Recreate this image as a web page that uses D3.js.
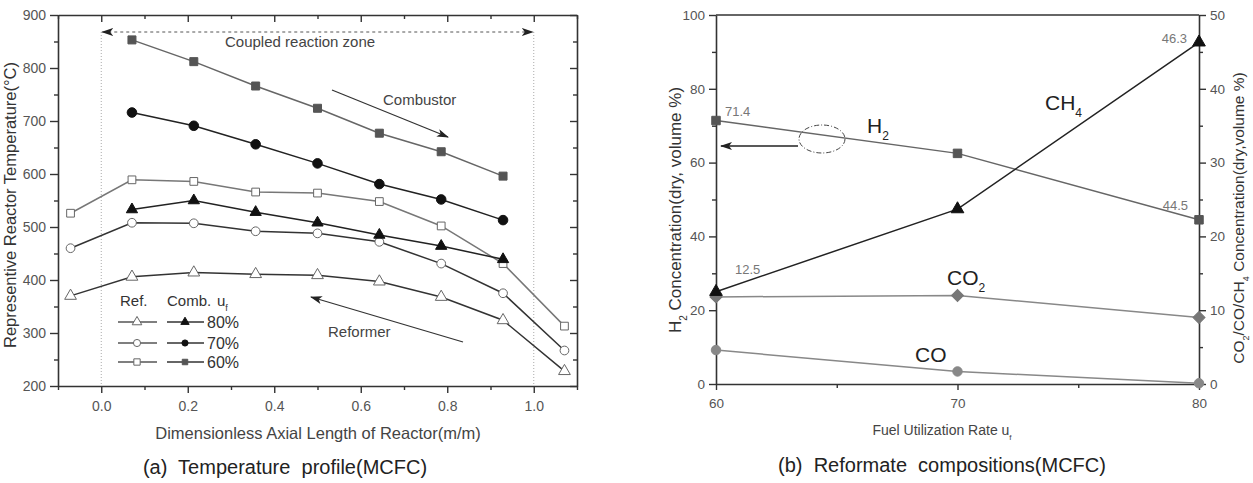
<!DOCTYPE html>
<html>
<head>
<meta charset="utf-8">
<script src="https://cdn.jsdelivr.net/npm/d3@7"></script>
<style>
  body { margin: 0; background: #fff; }
  svg { font-family: "Liberation Sans", Arial, sans-serif; }
  .domain { stroke: #333; stroke-width: 1.6; }
  .tick line { stroke: #333; stroke-width: 1.4; }
  .tick text { fill: #555; }
</style>
</head>
<body>
<script>
// ----- (a) temperature profile -----
const axialPos = [-0.071, 0.071, 0.214, 0.357, 0.5, 0.643, 0.786, 0.929, 1.071];
const combPos = [0.071, 0.214, 0.357, 0.5, 0.643, 0.786, 0.929];

const ref80 = [370, 406, 414, 411, 409, 397, 368, 324, 228];
const ref70 = [460, 508, 507, 492, 488, 472, 431, 375, 267];
const ref60 = [526, 589, 586, 566, 564, 548, 502, 431, 313];
const comb80 = [533, 550, 528, 508, 485, 464, 439];
const comb70 = [716, 691, 656, 620, 581, 552, 513];
const comb60 = [853, 812, 766, 724, 677, 642, 596];

const tempTicks = [200, 300, 400, 500, 600, 700, 800, 900];
const tempMinor = [250, 350, 450, 550, 650, 750, 850];
const axialTicks = [0.0, 0.2, 0.4, 0.6, 0.8, 1.0];
const axialMinor = [-0.1, 0.1, 0.3, 0.5, 0.7, 0.9, 1.1];
const legendRates = ['80%', '70%', '60%'];

// ----- (b) reformate compositions -----
const fuelRate = [60, 70, 80];
const h2 = [71.4, 62.5, 44.5];
const ch4 = [12.5, 23.7, 46.3];
const co2 = [11.8, 12.0, 9.0];
const co = [4.6, 1.7, 0.1];

const h2Ticks = [0, 20, 40, 60, 80, 100];
const h2Minor = [10, 30, 50, 70, 90];
const otherTicks = [0, 10, 20, 30, 40, 50];
const otherMinor = [5, 15, 25, 35, 45];
const rateTicks = [60, 70, 80];
const rateMinor = [65, 75];

const svg = d3.select('body').append('svg')
  .attr('width', 1253)
  .attr('height', 483);

const defs = svg.append('defs');
defs.append('marker')
  .attr('id', 'head')
  .attr('viewBox', '0 0 12 8')
  .attr('refX', 11).attr('refY', 4)
  .attr('markerWidth', 12).attr('markerHeight', 8)
  .attr('markerUnits', 'userSpaceOnUse')
  .attr('orient', 'auto-start-reverse')
  .append('path')
  .attr('d', 'M0,0 L12,4 L0,8 L3,4 Z')
  .attr('fill', '#222');

function drawSeries(g, xs, ys, x, y, style) {
  const pts = xs.map((v, i) => [x(v), y(ys[i])]);
  g.append('path')
    .attr('d', d3.line()(pts))
    .attr('fill', 'none')
    .attr('stroke', style.line)
    .attr('stroke-width', style.width || 1.5);
  g.selectAll(null)
    .data(pts)
    .enter()
    .append('path')
    .attr('transform', d => `translate(${d[0]},${d[1]})${style.rotate ? ' rotate(45)' : ''}`)
    .attr('d', d3.symbol().type(style.symbol).size(style.size))
    .attr('fill', style.fill)
    .attr('stroke', style.stroke)
    .attr('stroke-width', 1);
}

function addSub(text, base, sub, subSize) {
  text.append('tspan').text(base);
  text.append('tspan').attr('baseline-shift', 'sub').attr('font-size', subSize).text(sub);
}

// ================= chart (a) =================
const xA = d3.scaleLinear().domain([-0.1, 1.1]).range([58, 577]);
const yA = d3.scaleLinear().domain([200, 900]).range([386, 15]);
const gA = svg.append('g');

// dotted zone boundaries
[0, 1].forEach(v => {
  gA.append('line')
    .attr('x1', xA(v)).attr('x2', xA(v))
    .attr('y1', 32).attr('y2', 386)
    .attr('stroke', '#aaa').attr('stroke-width', 1)
    .attr('stroke-dasharray', '1,2');
});

gA.append('line')
  .attr('x1', xA(0) + 1).attr('x2', xA(1) - 1)
  .attr('y1', 32).attr('y2', 32)
  .attr('stroke', '#555').attr('stroke-width', 1)
  .attr('stroke-dasharray', '3,3')
  .attr('marker-start', 'url(#head)')
  .attr('marker-end', 'url(#head)');

gA.append('text')
  .attr('x', 225).attr('y', 47)
  .attr('font-size', 15).attr('fill', '#444')
  .text('Coupled reaction zone');

// axes
gA.append('g')
  .attr('transform', 'translate(58,0)')
  .call(d3.axisLeft(yA).tickValues(tempTicks).tickSize(8).tickPadding(4).tickSizeOuter(0))
  .call(g => g.selectAll('text').attr('font-size', 14));
gA.append('g')
  .attr('transform', 'translate(58,0)')
  .call(d3.axisLeft(yA).tickValues(tempMinor).tickSize(4).tickFormat('').tickSizeOuter(0))
  .call(g => g.select('.domain').remove());
gA.append('g')
  .attr('transform', 'translate(577,0)')
  .call(d3.axisRight(yA).tickValues(tempTicks).tickSize(-7).tickFormat('').tickSizeOuter(0));
gA.append('g')
  .attr('transform', 'translate(577,0)')
  .call(d3.axisRight(yA).tickValues(tempMinor).tickSize(-4).tickFormat('').tickSizeOuter(0))
  .call(g => g.select('.domain').remove());
gA.append('g')
  .attr('transform', 'translate(0,386)')
  .call(d3.axisBottom(xA).tickValues(axialTicks).tickSize(7).tickPadding(8)
    .tickFormat(d3.format('.1f')).tickSizeOuter(0))
  .call(g => g.selectAll('text').attr('font-size', 14));
gA.append('g')
  .attr('transform', 'translate(0,386)')
  .call(d3.axisBottom(xA).tickValues(axialMinor).tickSize(4).tickFormat('').tickSizeOuter(0))
  .call(g => g.select('.domain').remove());
gA.append('g')
  .attr('transform', 'translate(0,15)')
  .call(d3.axisTop(xA).tickValues(axialTicks).tickSize(-7).tickFormat('').tickSizeOuter(0));
gA.append('g')
  .attr('transform', 'translate(0,15)')
  .call(d3.axisTop(xA).tickValues(axialMinor).tickSize(-4).tickFormat('').tickSizeOuter(0))
  .call(g => g.select('.domain').remove());

// series
const refStyle = (symbol, line) => ({ symbol, size: 60, fill: '#fff', stroke: '#666', line, width: 1.5 });
drawSeries(gA, axialPos, ref60, xA, yA, refStyle(d3.symbolSquare, '#777'));
drawSeries(gA, axialPos, ref70, xA, yA, refStyle(d3.symbolCircle, '#333'));
drawSeries(gA, axialPos, ref80, xA, yA, refStyle(d3.symbolTriangle, '#333'));
drawSeries(gA, combPos, comb60, xA, yA, { symbol: d3.symbolSquare, size: 64, fill: '#555', stroke: '#555', line: '#666' });
drawSeries(gA, combPos, comb70, xA, yA, { symbol: d3.symbolCircle, size: 72, fill: '#111', stroke: '#111', line: '#222' });
drawSeries(gA, combPos, comb80, xA, yA, { symbol: d3.symbolTriangle, size: 55, fill: '#111', stroke: '#111', line: '#222' });

// flow annotations
gA.append('line')
  .attr('x1', 332).attr('y1', 90).attr('x2', 448).attr('y2', 137)
  .attr('stroke', '#333').attr('stroke-width', 1.3)
  .attr('marker-end', 'url(#head)');
gA.append('text')
  .attr('x', 383).attr('y', 105)
  .attr('font-size', 15).attr('fill', '#444')
  .text('Combustor');
gA.append('line')
  .attr('x1', 463).attr('y1', 342).attr('x2', 311).attr('y2', 297)
  .attr('stroke', '#333').attr('stroke-width', 1.3)
  .attr('marker-end', 'url(#head)');
gA.append('text')
  .attr('x', 328).attr('y', 337)
  .attr('font-size', 15).attr('fill', '#444')
  .text('Reformer');

// legend
const leg = gA.append('g').attr('font-size', 15).attr('fill', '#333');
leg.append('text').attr('x', 120).attr('y', 306).text('Ref.');
leg.append('text').attr('x', 167).attr('y', 306).text('Comb.');
addSub(leg.append('text').attr('x', 217).attr('y', 306), 'u', 'f', 9);

const legStyles = [
  [d3.symbolTriangle, '#111'],
  [d3.symbolCircle, '#111'],
  [d3.symbolSquare, '#555'],
];
const legRows = [322, 343, 362];
legendRates.forEach((rate, i) => {
  const yy = legRows[i];
  const [sym, col] = legStyles[i];
  leg.append('line').attr('x1', 118).attr('x2', 157).attr('y1', yy).attr('y2', yy)
    .attr('stroke', '#555').attr('stroke-width', 1.5);
  leg.append('path').attr('transform', `translate(137,${yy})`)
    .attr('d', d3.symbol().type(sym).size(40))
    .attr('fill', '#fff').attr('stroke', '#666');
  leg.append('line').attr('x1', 167).attr('x2', 204).attr('y1', yy).attr('y2', yy)
    .attr('stroke', '#333').attr('stroke-width', 1.5);
  leg.append('path').attr('transform', `translate(185,${yy})`)
    .attr('d', d3.symbol().type(sym).size(30))
    .attr('fill', col).attr('stroke', col);
  leg.append('text').attr('x', 207).attr('y', yy + 6).attr('font-size', 16).text(rate);
});

// titles
gA.append('text')
  .attr('transform', 'translate(16,205) rotate(-90)')
  .attr('text-anchor', 'middle')
  .attr('font-size', 16.5).attr('fill', '#333')
  .text('Representive Reactor Temperature(°C)');
gA.append('text')
  .attr('x', 318).attr('y', 439)
  .attr('text-anchor', 'middle')
  .attr('font-size', 16.5).attr('fill', '#444')
  .text('Dimensionless Axial Length of Reactor(m/m)');
gA.append('text')
  .attr('x', 285).attr('y', 474)
  .attr('text-anchor', 'middle')
  .attr('font-size', 20).attr('fill', '#222')
  .attr('xml:space', 'preserve')
  .text('(a)  Temperature  profile(MCFC)');

// ================= chart (b) =================
const xB = d3.scaleLinear().domain([60, 80]).range([716, 1199]);
const yB = d3.scaleLinear().domain([0, 100]).range([384, 15]);
const yB2 = d3.scaleLinear().domain([0, 50]).range([384, 15]);
const gB = svg.append('g');

gB.append('line')
  .attr('x1', 716).attr('x2', 1199).attr('y1', 15).attr('y2', 15)
  .attr('stroke', '#333').attr('stroke-width', 1.6);

gB.append('g')
  .attr('transform', 'translate(716,0)')
  .call(d3.axisLeft(yB).tickValues(h2Ticks).tickSize(7).tickPadding(4).tickSizeOuter(0))
  .call(g => g.selectAll('text').attr('font-size', 13.5));
gB.append('g')
  .attr('transform', 'translate(716,0)')
  .call(d3.axisLeft(yB).tickValues(h2Minor).tickSize(4).tickFormat('').tickSizeOuter(0))
  .call(g => g.select('.domain').remove());
gB.append('g')
  .attr('transform', 'translate(1199,0)')
  .call(d3.axisRight(yB2).tickValues(otherTicks).tickSize(7).tickPadding(4).tickSizeOuter(0))
  .call(g => g.selectAll('text').attr('font-size', 13.5));
gB.append('g')
  .attr('transform', 'translate(1199,0)')
  .call(d3.axisRight(yB2).tickValues(otherMinor).tickSize(4).tickFormat('').tickSizeOuter(0))
  .call(g => g.select('.domain').remove());
gB.append('g')
  .attr('transform', 'translate(0,384)')
  .call(d3.axisBottom(xB).tickValues(rateTicks).tickSize(6).tickPadding(8).tickSizeOuter(0))
  .call(g => g.selectAll('text').attr('font-size', 13.5));
gB.append('g')
  .attr('transform', 'translate(0,384)')
  .call(d3.axisBottom(xB).tickValues(rateMinor).tickSize(4).tickFormat('').tickSizeOuter(0))
  .call(g => g.select('.domain').remove());

drawSeries(gB, fuelRate, co, xB, yB2, { symbol: d3.symbolCircle, size: 70, fill: '#888', stroke: '#888', line: '#888' });
drawSeries(gB, fuelRate, co2, xB, yB2, { symbol: d3.symbolSquare, size: 72, rotate: true, fill: '#777', stroke: '#777', line: '#888' });
drawSeries(gB, fuelRate, h2, xB, yB, { symbol: d3.symbolSquare, size: 72, fill: '#555', stroke: '#555', line: '#666' });
drawSeries(gB, fuelRate, ch4, xB, yB2, { symbol: d3.symbolTriangle, size: 70, fill: '#111', stroke: '#111', line: '#222' });

// value labels
const valLab = gB.append('g').attr('font-size', 13).attr('fill', '#777');
valLab.append('text').attr('x', xB(60) + 9).attr('y', yB(h2[0]) - 5).text(h2[0].toFixed(1));
valLab.append('text').attr('x', xB(60) + 19).attr('y', yB2(ch4[0]) - 18).text(ch4[0].toFixed(1));
valLab.append('text').attr('x', xB(80) - 12).attr('y', yB2(ch4[2]) + 1)
  .attr('text-anchor', 'end').text(ch4[2].toFixed(1));
valLab.append('text').attr('x', xB(80) - 11).attr('y', yB(h2[2]) - 10)
  .attr('text-anchor', 'end').text(h2[2].toFixed(1));

// species labels
const spec = gB.append('g').attr('font-size', 21).attr('fill', '#222');
addSub(spec.append('text').attr('x', 867).attr('y', 133), 'H', '2', 12);
addSub(spec.append('text').attr('x', 1045).attr('y', 110), 'CH', '4', 12);
addSub(spec.append('text').attr('x', 947).attr('y', 285), 'CO', '2', 12);
spec.append('text').attr('x', 915).attr('y', 362).text('CO');

// axis indicator
gB.append('ellipse')
  .attr('cx', 822).attr('cy', 139).attr('rx', 23).attr('ry', 14)
  .attr('fill', 'none').attr('stroke', '#444').attr('stroke-width', 1)
  .attr('stroke-dasharray', '5,2,1,2');
gB.append('line')
  .attr('x1', 798).attr('y1', 146).attr('x2', 721).attr('y2', 146)
  .attr('stroke', '#222').attr('stroke-width', 1.3)
  .attr('marker-end', 'url(#head)');

// titles
const leftTitle = gB.append('text')
  .attr('transform', 'translate(681,210) rotate(-90)')
  .attr('text-anchor', 'middle')
  .attr('font-size', 17).attr('fill', '#333');
addSub(leftTitle, 'H', '2', 10);
leftTitle.append('tspan').text(' Concentration(dry, volume %)');

const rightTitle = gB.append('text')
  .attr('transform', 'translate(1244,218) rotate(-90)')
  .attr('text-anchor', 'middle')
  .attr('font-size', 15.5).attr('fill', '#333');
addSub(rightTitle, 'CO', '2', 9);
addSub(rightTitle, '/CO/CH', '4', 9);
rightTitle.append('tspan').text(' Concentration(dry,volume %)');

const xTitle = gB.append('text')
  .attr('x', 942).attr('y', 435)
  .attr('text-anchor', 'middle')
  .attr('font-size', 14).attr('fill', '#444');
addSub(xTitle, 'Fuel Utilization Rate u', 'f', 8);

gB.append('text')
  .attr('x', 942).attr('y', 472)
  .attr('text-anchor', 'middle')
  .attr('font-size', 20).attr('fill', '#222')
  .attr('xml:space', 'preserve')
  .text('(b)  Reformate  compositions(MCFC)');
</script>
</body>
</html>
